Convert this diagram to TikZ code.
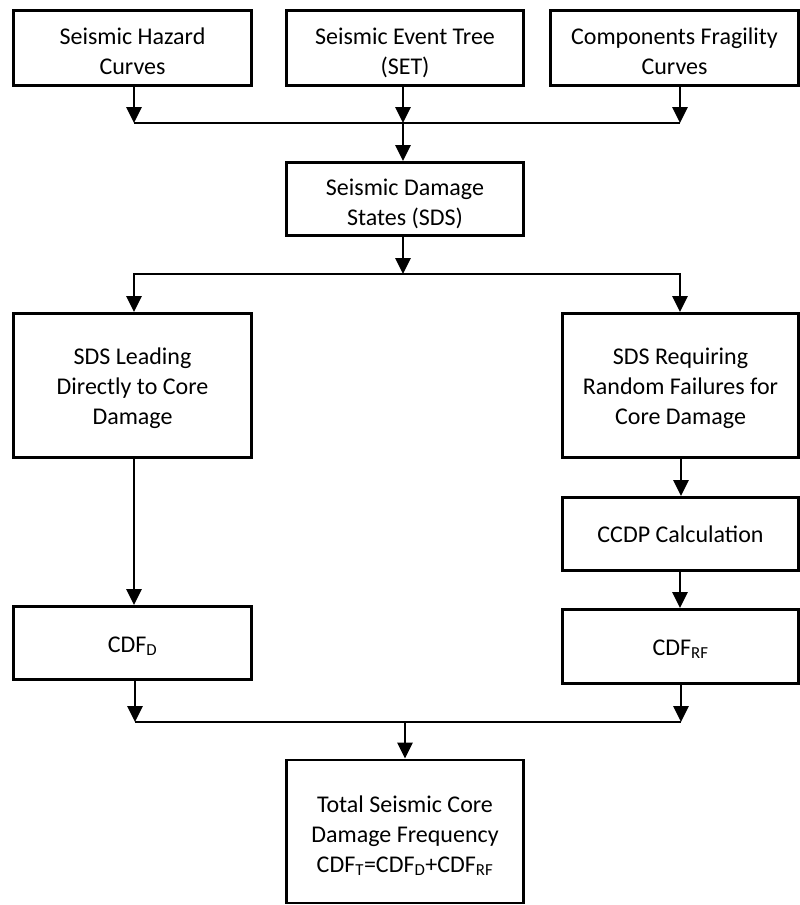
\documentclass[tikz,border=0pt]{standalone}
\usepackage{fontspec}
\setmainfont{Carlito}
\usetikzlibrary{arrows.meta}
\newcommand\topst[1]{\rule{0pt}{#1pt}}
\newcommand\botst{\rule[-9pt]{0pt}{9pt}}
\begin{document}
\begin{tikzpicture}[x=1pt,y=-1pt,
  box/.style={draw, line width=2.8pt, rectangle, inner sep=0pt, align=center,
    font=\fontsize{24}{30}\selectfont},
  arr/.style={line width=2.8pt, -{Triangle[length=16pt,width=15pt]}},
  busline/.style={line width=2.8pt}]
\useasboundingbox (0,0) rectangle (800,905);
\clip (0,0) rectangle (800,905);
% boxes
\node[box, minimum width=238pt, minimum height=75pt] (haz) at (132.5,48) {\topst{31}Seismic Hazard\\Curves\botst};
\node[box, minimum width=237pt, minimum height=75pt] (set) at (405,48) {\topst{31}Seismic Event Tree\\(SET)\botst};
\node[box, minimum width=248pt, minimum height=75pt] (comp) at (674.5,48) {\topst{31}Components Fragility\\Curves\botst};
\node[box, minimum width=237pt, minimum height=73pt] (sds) at (405,199) {\topst{31}Seismic Damage\\States (SDS)\botst};
\node[box, minimum width=238pt, minimum height=144pt] (lead) at (132.5,385.5) {\topst{26}SDS Leading\\Directly to Core\\Damage\botst};
\node[box, minimum width=236pt, minimum height=144pt] (req) at (680.5,385.5) {\topst{26}SDS Requiring\\Random Failures for\\Core Damage\botst};
\node[box, minimum width=236pt, minimum height=73pt] (ccdp) at (680.5,534) {\topst{26}CCDP Calculation\botst};
\node[box, minimum width=238pt, minimum height=73pt] (cdfd) at (132.5,643) {\topst{27}CDF\textsubscript{D}\botst};
\node[box, minimum width=236pt, minimum height=74pt] (cdfrf) at (680.5,646.5) {\topst{26}CDF\textsubscript{RF}\botst};
\node[box, minimum width=237pt, minimum height=143pt] (total) at (405,831.5) {\topst{30}Total Seismic Core\\Damage Frequency\\CDF\textsubscript{T}=CDF\textsubscript{D}+CDF\textsubscript{RF}\botst};
% junctions
\coordinate (j1) at (403,123);
\coordinate (j1l) at (134,123);
\coordinate (j1r) at (680,123);
\coordinate (j2) at (403,274);
\coordinate (j2l) at (134,274);
\coordinate (j2r) at (680,274);
\coordinate (j3) at (405,722);
\coordinate (j3l) at (135,722);
\coordinate (j3r) at (681,722);
% connectors
\draw[busline] (j1l) -- (j1r);
\draw[arr] (haz.south -| j1l) -- (j1l);
\draw[arr] (set.south -| j1) -- (j1);
\draw[arr] (comp.south -| j1r) -- (j1r);
\draw[arr] (j1) -- (sds.north -| j1);
\draw[arr] (sds.south -| j2) -- (j2);
\draw[arr] (j2) -- (j2l) -- (lead.north -| j2l);
\draw[arr] (j2) -- (j2r) -- (req.north -| j2r);
\draw[arr] (lead.south -| j2l) -- (cdfd.north -| j2l);
\draw[arr] (req.south -| j3r) -- (ccdp.north -| j3r);
\draw[arr] (ccdp.south -| j2r) -- (cdfrf.north -| j2r);
\draw[busline] (j3l) -- (j3r);
\draw[arr] (cdfd.south -| j3l) -- (j3l);
\draw[arr] (cdfrf.south -| j3r) -- (j3r);
\draw[arr] (j3) -- (total.north -| j3);
\end{tikzpicture}
\end{document}
